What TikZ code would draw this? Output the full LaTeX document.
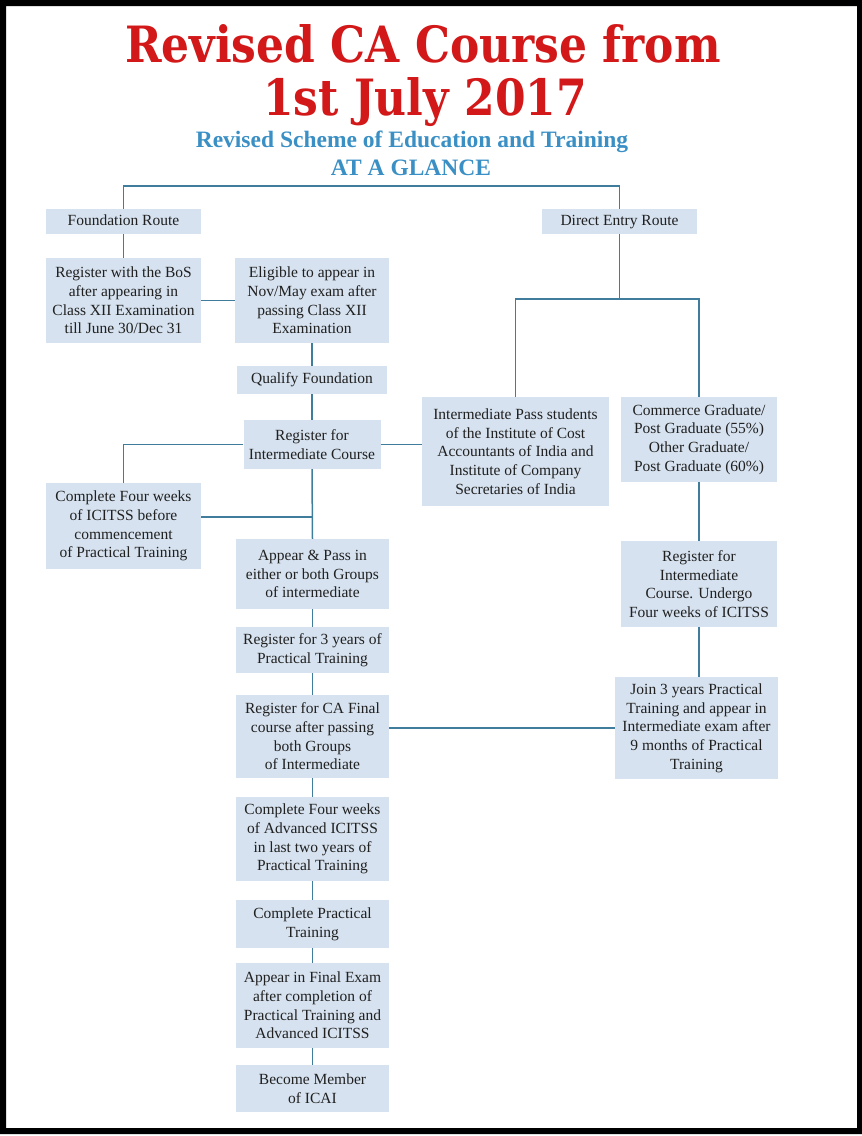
\documentclass[tikz,border=0pt]{standalone}
\usepackage{fontspec}
\setmainfont{Liberation Serif}
\newfontfamily\titlefont[FakeStretch=0.88]{DejaVu Serif}
\usepackage{xcolor}
\usepackage{tikz}
\usetikzlibrary{positioning}

\definecolor{boxblue}{RGB}{214,226,239}
\definecolor{linkblue}{RGB}{64,124,156}
\definecolor{titlered}{RGB}{210,24,24}
\definecolor{headblue}{RGB}{58,143,196}
\definecolor{boxtext}{RGB}{32,32,32}

\tikzset{
  stepbox/.style={fill=boxblue, text=boxtext, inner sep=0pt, align=center,
    font=\fontsize{15.5}{18.7}\selectfont},
  linebox/.style={stepbox, text height=11pt, text depth=4pt},
  link/.style={draw=linkblue, line width=1.5pt},
  bigtitle/.style={text=titlered, anchor=base, inner sep=0pt,
    font=\titlefont\bfseries\fontsize{50}{56}\selectfont},
  subtitle/.style={text=headblue, anchor=base, inner sep=0pt,
    font=\bfseries\fontsize{23.5}{26}\selectfont}
}

\begin{document}
\begin{tikzpicture}[x=1pt, y=-1pt]
\useasboundingbox (0,0) rectangle (862,1136);
% frame
\fill[black, even odd rule] (0,0) rectangle (862,1134) (6,6) rectangle (857,1128);

% headings
\node[bigtitle] (title) at (423,62) {Revised CA Course from};
\node[bigtitle] (titledate) at (425,115) {1st July 2017};
\node[subtitle] (scheme) at (412,147) {Revised Scheme of Education and Training};
\node[subtitle] (glance) at (411,175) {AT A GLANCE};

% foundation route
\node[linebox, minimum width=155pt, minimum height=25pt] (found) at (123.5,221.5) {Foundation Route};
\node[stepbox, minimum width=155pt, minimum height=85pt] (bos) at (123.5,300.5)
  {Register with the BoS\\after appearing in\\Class XII Examination\\till June 30/Dec 31};
\node[stepbox, minimum width=154pt, minimum height=85pt] (elig) at (312,300.5)
  {Eligible to appear in\\Nov/May exam after\\passing Class XII\\Examination};
\node[linebox, minimum width=150pt, minimum height=28pt] (qualify) at (312,380) {Qualify Foundation};
\node[stepbox, minimum width=137pt, minimum height=49pt] (regint) at (312,444.5)
  {Register for\\Intermediate Course};
\node[stepbox, minimum width=155pt, minimum height=86pt] (icitss) at (123.5,526)
  {Complete Four weeks\\of ICITSS before\\commencement\\of Practical Training};
\node[stepbox, minimum width=153pt, minimum height=70pt] (appear) at (312.5,574)
  {Appear \& Pass in\\either or both Groups\\of intermediate};
\node[stepbox, minimum width=153pt, minimum height=46pt] (reg3) at (312.5,650)
  {Register for 3 years of\\Practical Training};
\node[stepbox, minimum width=153pt, minimum height=83pt] (regfinal) at (312.5,736.5)
  {Register for CA Final\\course after passing\\both Groups\\of Intermediate};
\node[stepbox, minimum width=153pt, minimum height=84pt] (adv) at (312.5,839)
  {Complete Four weeks\\of Advanced ICITSS\\in last two years of\\Practical Training};
\node[stepbox, minimum width=153pt, minimum height=48pt] (comppt) at (312.5,924)
  {Complete Practical\\Training};
\node[stepbox, minimum width=153pt, minimum height=85pt] (final) at (312.5,1005.5)
  {Appear in Final Exam\\after completion of\\Practical Training and\\Advanced ICITSS};
\node[stepbox, minimum width=153pt, minimum height=47pt] (member) at (312.5,1088.5)
  {Become Member\\of ICAI};

% direct entry route
\node[linebox, minimum width=155pt, minimum height=25pt] (direct) at (619.5,221.5) {Direct Entry Route};
\node[stepbox, minimum width=187pt, minimum height=109pt] (intpass) at (515.5,451.5)
  {Intermediate Pass students\\of the Institute of Cost\\Accountants of India and\\Institute of Company\\Secretaries of India};
\node[stepbox, minimum width=156pt, minimum height=85pt] (commerce) at (699,439.5)
  {Commerce Graduate/\\Post Graduate (55\%)\\Other Graduate/\\Post Graduate (60\%)};
\node[stepbox, minimum width=156pt, minimum height=86pt] (regint2) at (699,584)
  {Register for\\Intermediate\\Course. Undergo\\Four weeks of ICITSS};
\node[stepbox, minimum width=163pt, minimum height=102pt] (join) at (696.5,728)
  {Join 3 years Practical\\Training and appear in\\Intermediate exam after\\9 months of Practical\\Training};

% connectors
\coordinate (topbar) at (0,186);
\coordinate (split) at (0,299);
\coordinate (icitssjoin) at (312,517);
\draw[link] (found.north) -- (found.north |- topbar) -- (direct.north |- topbar) -- (direct.north);
\draw[link] (found.south) -- (bos.north);
\draw[link] (bos.east) -- (elig.west);
\draw[link] (elig.south) -- (qualify.north);
\draw[link] (qualify.south) -- (regint.north);
\draw[link] (regint.west) -| (icitss.north);
\draw[link] (regint.south) -- (appear.north);
\draw[link] (icitss.east |- icitssjoin) -- (icitssjoin);
\draw[link] (regint.east) -- (regint.east -| intpass.west);
\draw[link] (direct.south) -- (direct.south |- split);
\draw[link] (intpass.north) -- (intpass.north |- split) -- (commerce.north |- split) -- (commerce.north);
\draw[link] (commerce.south) -- (regint2.north);
\draw[link] (regint2.south) -- (regint2.south |- join.north);
\draw[link] (join.west) -- (join.west -| regfinal.east);
\foreach \a/\b in {appear/reg3, reg3/regfinal, regfinal/adv, adv/comppt, comppt/final, final/member}
  \draw[link] (\a.south) -- (\b.north);
\end{tikzpicture}
\end{document}
